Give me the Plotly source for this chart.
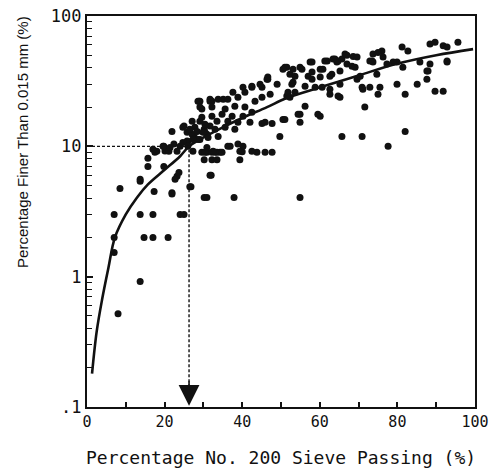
import plotly.graph_objects as go

# Scatter data: No. 200 sieve passing (%) vs percentage finer than 0.015 mm (%)
pass_200 = [
    8.5, 13.7, 15.7, 15.7, 19.8, 17.5, 20.1, 23.2, 23.7, 17.3, 21.9, 7.0, 13.7, 17.0, 24.0, 25.0,
    7.0, 14.7, 17.0, 20.9, 7.0, 13.7, 8.0, 26.8, 30.2, 30.9, 37.9, 32.0, 29.6, 30.9, 32.2, 33.5,
    34.3, 30.2, 32.2, 36.9, 39.4, 43.8, 47.7, 54.9, 31.7, 26.5, 13.7, 22.7, 21.9,
    40.0, 40.2, 49.7, 45.1, 47.7, 50.5, 54.9, 54.9, 60.1, 46.6, 44.6, 40.2, 42.5, 37.6, 35.1,
    32.2, 29.1, 51.5, 53.1, 54.9, 57.5, 58.0, 60.1, 61.9, 63.1, 64.4, 65.2, 51.5,
    28.9, 31.7, 29.6, 21.9, 25.0, 25.8, 27.6, 29.1, 30.2, 30.9, 31.7, 19.8, 22.4, 21.1, 18.0,
    24.0, 25.8,
    63.9, 64.7, 66.5, 68.6, 69.6, 67.0, 68.3, 69.1, 73.7, 73.5, 73.7, 76.0, 76.3, 81.2, 82.7,
    88.4, 89.7, 91.8, 92.8, 95.6, 92.8, 88.4, 87.9, 87.6, 89.7, 91.8, 85.1, 82.0, 79.9, 75.5,
    75.0, 72.9, 70.9, 71.6, 65.7, 70.9, 77.6, 82.0, 74.7, 77.3, 79.9, 81.4, 85.8, 87.6, 69.6,
    70.4, 65.2, 62.6, 62.6, 64.7,
    46.4, 45.1, 42.5, 40.7, 38.9, 36.3, 33.8, 31.7, 28.6, 29.1, 32.2, 35.6, 38.1, 40.7, 43.3,
    45.1, 42.5, 40.2, 37.4, 34.8, 32.2, 29.6, 27.1, 27.8, 30.4, 33.5, 36.3, 38.9, 42.0, 45.9,
    27.1, 30.4, 33.0, 35.6, 38.1, 26.0, 28.6, 31.2, 33.8, 36.3, 38.9, 39.4, 42.5, 45.9, 30.4,
    33.0, 34.8, 27.3,
    58.0, 61.3, 65.7, 60.8, 57.0, 58.0, 55.4, 51.0, 52.3, 53.6, 52.8, 51.8, 53.6, 52.3, 46.6,
    49.0, 47.2, 56.2, 58.8, 60.6, 62.6, 56.2, 54.4, 59.5,
    24.7, 26.5, 29.1, 28.4, 29.9, 19.6, 21.4, 23.2, 24.7, 26.0, 17.0, 30.9, 27.3, 32.5, 33.5,
    50.5, 53.1, 60.1, 63.4, 67.0, 72.9, 75.0, 78.9, 92.8, 71.1, 65.2, 51.0,
]
finer_0015 = [
    4.75, 5.4, 8.1, 7.0, 7.0, 9.0, 9.2, 5.9, 6.3, 4.5, 4.4, 3.0, 3.0, 3.0, 3.0, 3.0,
    2.0, 2.0, 2.0, 2.0, 1.53, 0.92, 0.52, 4.9, 4.05, 4.05, 4.05, 6.0, 9.0, 9.0, 9.0, 9.0,
    9.0, 7.9, 7.9, 10.0, 7.9, 9.0, 9.0, 4.05, 6.0, 4.9, 5.6, 5.6, 4.3,
    9.1, 10.0, 11.9, 15.0, 15.0, 16.1, 17.6, 15.3, 17.0, 32.7, 30.0, 28.4, 28.9, 26.0, 23.0,
    22.2, 22.2, 40.5, 39.1, 40.5, 44.3, 37.1, 34.0, 45.1, 35.8, 44.3, 30.0, 24.3,
    22.2, 22.2, 19.3, 13.0, 14.3, 12.8, 11.9, 11.3, 13.5, 12.4, 14.3, 10.0, 10.4, 9.15, 9.15,
    10.0, 11.0,
    46.7, 45.1, 51.0, 49.0, 48.4, 42.8, 41.2, 40.5, 51.0, 45.1, 44.3, 53.8, 48.4, 57.8, 53.8,
    61.0, 63.0, 59.0, 57.8, 63.0, 44.3, 42.8, 37.8, 32.7, 26.5, 26.5, 30.0, 25.1, 30.0, 28.4,
    25.1, 28.4, 28.4, 20.0, 11.9, 11.9, 10.0, 13.0, 35.8, 42.8, 44.3, 40.5, 44.3, 37.8, 32.7,
    34.5, 37.8, 34.5, 27.4, 24.3,
    32.7, 28.4, 28.4, 26.0, 23.8, 23.0, 23.0, 23.0, 22.2, 20.0, 20.0, 19.3, 20.3, 20.0, 22.2,
    23.8, 18.3, 17.0, 17.0, 17.6, 17.0, 16.7, 15.6, 14.0, 14.8, 15.6, 15.6, 15.3, 15.3, 15.3,
    12.4, 12.8, 13.5, 14.0, 13.5, 10.9, 11.3, 11.7, 11.9, 10.0, 10.4, 9.15, 9.15, 9.0, 9.0,
    9.0, 9.0, 9.15,
    44.3, 45.1, 46.7, 39.1, 34.5, 32.7, 39.1, 40.5, 35.8, 34.5, 30.0, 26.0, 26.0, 23.8, 34.0,
    30.0, 25.1, 28.9, 28.4, 28.4, 25.1, 20.3, 17.6, 17.6,
    14.0, 13.5, 15.6, 13.0, 12.8, 10.0, 9.8, 9.15, 10.7, 10.0, 9.5, 9.8, 11.3, 9.15, 7.9,
    39.1, 31.0, 39.1, 46.7, 50.0, 45.1, 52.5, 44.3, 45.1, 27.4, 23.8, 16.1,
]

# Fitted curve
curve_x = [1.3, 2.5, 3.9, 5.5, 7.2, 10, 12.9, 15.7, 20, 24, 26.3, 29.1, 35, 40, 46.4, 51.5, 60.1, 70, 79.9, 90, 99.5]
curve_y = [0.18, 0.38, 0.67, 1.16, 2.0, 3.0, 4.05, 5.1, 6.6, 8.4, 10.0, 11.3, 14.0, 16.5, 20.0, 23.5, 28.4, 35.0, 43.0, 50.0, 55.7]

# Reading guide: 10% finer -> 26.3% passing
guide_x = [0, 26.3, 26.3]
guide_y = [10, 10, 0.115]

x_ticks = [0, 20, 40, 60, 80, 100]
y_tickvals = [0.1, 1, 10, 100]
y_ticktext = [".1", "1", "10", "100"]
y_minor = [m * d for d in (0.1, 1, 10) for m in range(2, 10)]

FONT = "DejaVu Sans Mono"
INK = "#111111"

fig = go.Figure()
fig.add_trace(go.Scatter(x=guide_x, y=guide_y, mode="lines",
                         line=dict(color=INK, width=1.4, dash="3px,2px"),
                         hoverinfo="skip", showlegend=False))
fig.add_trace(go.Scatter(x=pass_200, y=finer_0015, mode="markers",
                         marker=dict(color=INK, size=7, line=dict(width=0)),
                         showlegend=False))
fig.add_trace(go.Scatter(x=curve_x, y=curve_y, mode="lines",
                         line=dict(color=INK, width=2.6, shape="spline"),
                         showlegend=False))

fig.add_annotation(x=26.3, y=-0.99, xref="x", yref="y", ax=0, ay=-26,
                   showarrow=True, arrowhead=2, arrowsize=2.6, arrowwidth=1.6,
                   arrowcolor=INK, text="")

fig.add_annotation(text="Percentage No. 200 Sieve Passing (%)", xref="paper", yref="paper",
                   x=0.5, y=-0.128, xanchor="center", yanchor="middle", showarrow=False,
                   font=dict(family=FONT, size=18, color=INK))
fig.add_annotation(text="Percentage Finer Than 0.015 mm (%)", xref="paper", yref="paper",
                   x=-0.165, y=0.678, xanchor="center", yanchor="middle", showarrow=False,
                   textangle=-90, font=dict(family="Liberation Sans", size=15, color=INK))

fig.update_layout(
    width=496, height=469,
    margin=dict(l=87, r=21, t=16, b=62),
    paper_bgcolor="white", plot_bgcolor="white",
    font=dict(family=FONT, color=INK),
    xaxis=dict(range=[0, 100], tickmode="array", tickvals=x_ticks,
               ticks="inside", ticklen=5, tickwidth=1.5, tickcolor=INK,
               minor=dict(tickvals=[10, 30, 50, 70, 90], ticks="inside", ticklen=5,
                          tickwidth=1.5, tickcolor=INK),
               showline=True, linecolor=INK, linewidth=2.2, mirror=True,
               showgrid=False, zeroline=False, automargin=False,
               tickfont=dict(family=FONT, size=15, color=INK)),
    yaxis=dict(type="log", range=[-1, 2], tickmode="array",
               tickvals=y_tickvals, ticktext=y_ticktext,
               ticks="inside", ticklen=6, tickwidth=1.5, tickcolor=INK,
               minor=dict(tickvals=y_minor, ticks="inside", ticklen=5,
                          tickwidth=1.3, tickcolor=INK),
               showline=True, linecolor=INK, linewidth=2.2, mirror=True,
               showgrid=False, zeroline=False, automargin=False,
               tickfont=dict(family=FONT, size=17, color=INK)),
)

fig.write_html("out.html", config={"displayModeBar": False},
               post_script="document.body.style.margin='0';document.body.style.overflow='hidden';")
